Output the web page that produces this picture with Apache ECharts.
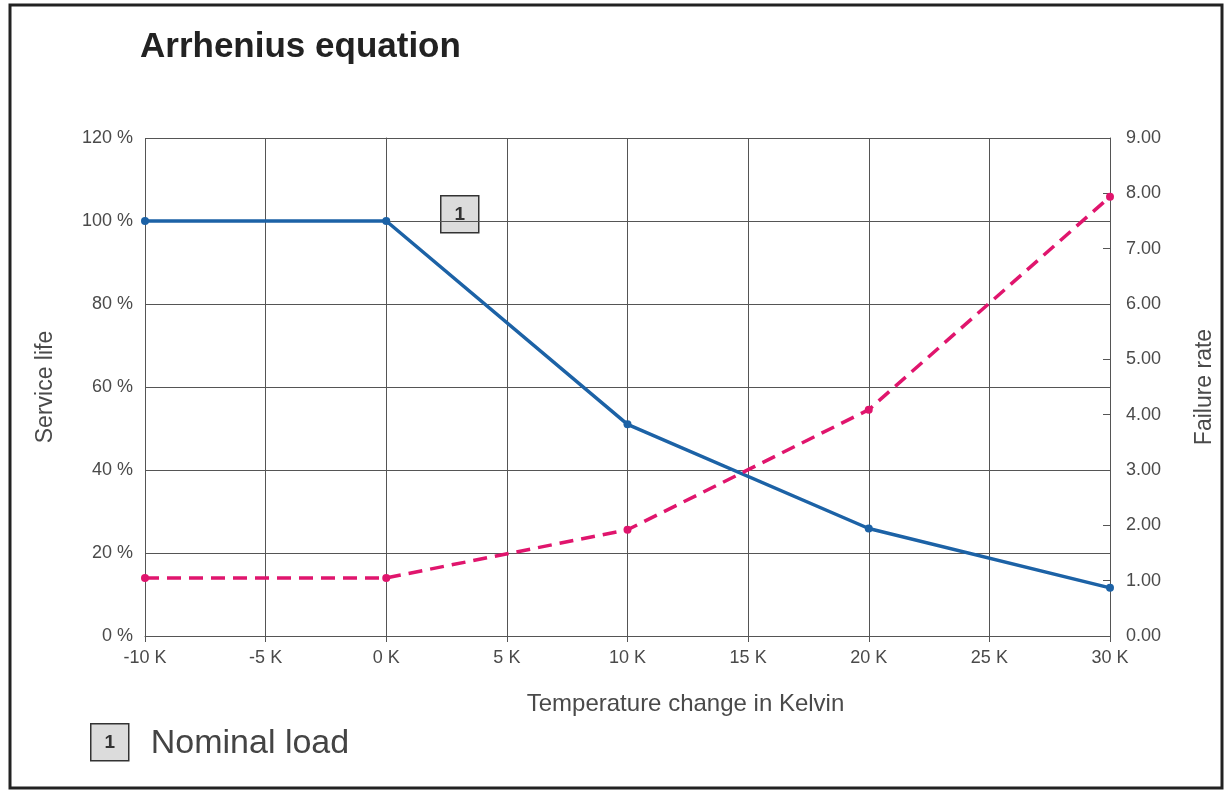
<!DOCTYPE html>
<html lang="en">
<head>
<meta charset="UTF-8">
<title>Arrhenius equation</title>
<style>
  *{margin:0;padding:0;}
  html,body{width:1225px;height:791px;background:#fff;}
  #main{width:1225px;height:791px;}
</style>
</head>
<body>
<div id="main"></div>
<script src="https://cdn.jsdelivr.net/npm/echarts@6/dist/echarts.min.js"></script>
<script>
// temperature change (K)
var tempK = [-10, 0, 10, 20, 30];
// service life in %
var serviceLife = [100, 100, 51, 25.9, 11.6];
// failure rate
var failureRate = [1.05, 1.05, 1.92, 4.09, 7.94];

var fontName = '"Liberation Sans", Arial, sans-serif';
var gridColor = '#555';
var labelColor = '#4a4a4a';

var chart = echarts.init(document.getElementById('main'));

function pairs(xs, ys){
	var out = [];
	for(var i = 0; i < xs.length; i++){
		out.push([xs[i], ys[i]]);
	}
	return out;
}

var option = {
	animation: false,
	textStyle: { fontFamily: fontName },
	title: {
		text: 'Arrhenius equation',
		left: 135,
		top: 25,
		textStyle: { fontSize: 35, fontWeight: 'bold', color: '#222', fontFamily: fontName }
	},
	grid: { left: 145, right: 115, top: 138, bottom: 155 },
	xAxis: {
		type: 'value',
		min: -10, max: 30, interval: 5,
		name: 'Temperature change in Kelvin',
		nameLocation: 'middle',
		nameGap: 56,
		// the name sits right of the plot centre in the original
		nameTextStyle: { fontSize: 24, color: labelColor, padding: [0, 0, 0, 116] },
		axisLine: { lineStyle: { color: gridColor, width: 1 } },
		axisTick: { show: true, length: 6, lineStyle: { color: gridColor } },
		axisLabel: { formatter: '{value} K', fontSize: 18, color: labelColor, margin: 13 },
		splitLine: { show: true, lineStyle: { color: gridColor, width: 1 } }
	},
	yAxis: [{
		type: 'value',
		min: 0, max: 120, interval: 20,
		name: 'Service life',
		nameLocation: 'middle',
		nameRotate: 90,
		nameGap: 88,
		nameTextStyle: { fontSize: 23, color: labelColor },
		axisLine: { show: true, lineStyle: { color: gridColor, width: 1 } },
		axisTick: { show: true, length: 7, lineStyle: { color: gridColor } },
		axisLabel: { formatter: '{value} %', fontSize: 18, color: labelColor, margin: 12 },
		splitLine: { show: true, lineStyle: { color: gridColor, width: 1 } }
	}, {
		type: 'value',
		min: 0, max: 9, interval: 1,
		position: 'right',
		name: 'Failure rate',
		nameLocation: 'middle',
		nameRotate: 90,
		nameGap: 83,
		nameTextStyle: { fontSize: 23, color: labelColor },
		axisLine: { show: true, lineStyle: { color: gridColor, width: 1 } },
		axisTick: { show: true, inside: true, length: 7, lineStyle: { color: gridColor } },
		axisLabel: {
			formatter: function(v){ return v.toFixed(2); },
			fontSize: 18, color: labelColor, margin: 16
		},
		splitLine: { show: false }
	}],
	series: [{
		name: 'Service life',
		type: 'line',
		yAxisIndex: 0,
		data: pairs(tempK, serviceLife),
		symbol: 'circle',
		symbolSize: 8,
		lineStyle: { color: '#1c62a6', width: 3.5 },
		itemStyle: { color: '#1c62a6' },
		z: 3
	}, {
		name: 'Failure rate',
		type: 'line',
		yAxisIndex: 1,
		data: pairs(tempK, failureRate),
		symbol: 'circle',
		symbolSize: 8,
		lineStyle: { color: '#e0156d', width: 3.5, type: [14, 8] },
		itemStyle: { color: '#e0156d' },
		z: 4
	}],
	graphic: [{
		type: 'rect',
		shape: { x: 10, y: 5, width: 1212, height: 783 },
		style: { fill: 'none', stroke: '#222', lineWidth: 3 },
		silent: true
	}, {
		type: 'group',
		left: 440, top: 195,
		children: [{
			type: 'rect',
			shape: { x: 0, y: 0, width: 38, height: 37 },
			style: { fill: '#dcdcdc', stroke: '#333', lineWidth: 1.5 }
		}, {
			type: 'text',
			x: 19, y: 19,
			style: { text: '1', font: 'bold 19px ' + fontName, fill: '#333', align: 'center', verticalAlign: 'middle' }
		}]
	}, {
		type: 'group',
		left: 90, top: 723,
		children: [{
			type: 'rect',
			shape: { x: 0, y: 0, width: 38, height: 37 },
			style: { fill: '#dcdcdc', stroke: '#333', lineWidth: 1.5 }
		}, {
			type: 'text',
			x: 19, y: 19,
			style: { text: '1', font: 'bold 19px ' + fontName, fill: '#333', align: 'center', verticalAlign: 'middle' }
		}, {
			type: 'text',
			x: 60, y: 20,
			style: { text: 'Nominal load', font: '34px ' + fontName, fill: '#444', verticalAlign: 'middle' }
		}]
	}]
};

chart.setOption(option);
</script>
</body>
</html>
